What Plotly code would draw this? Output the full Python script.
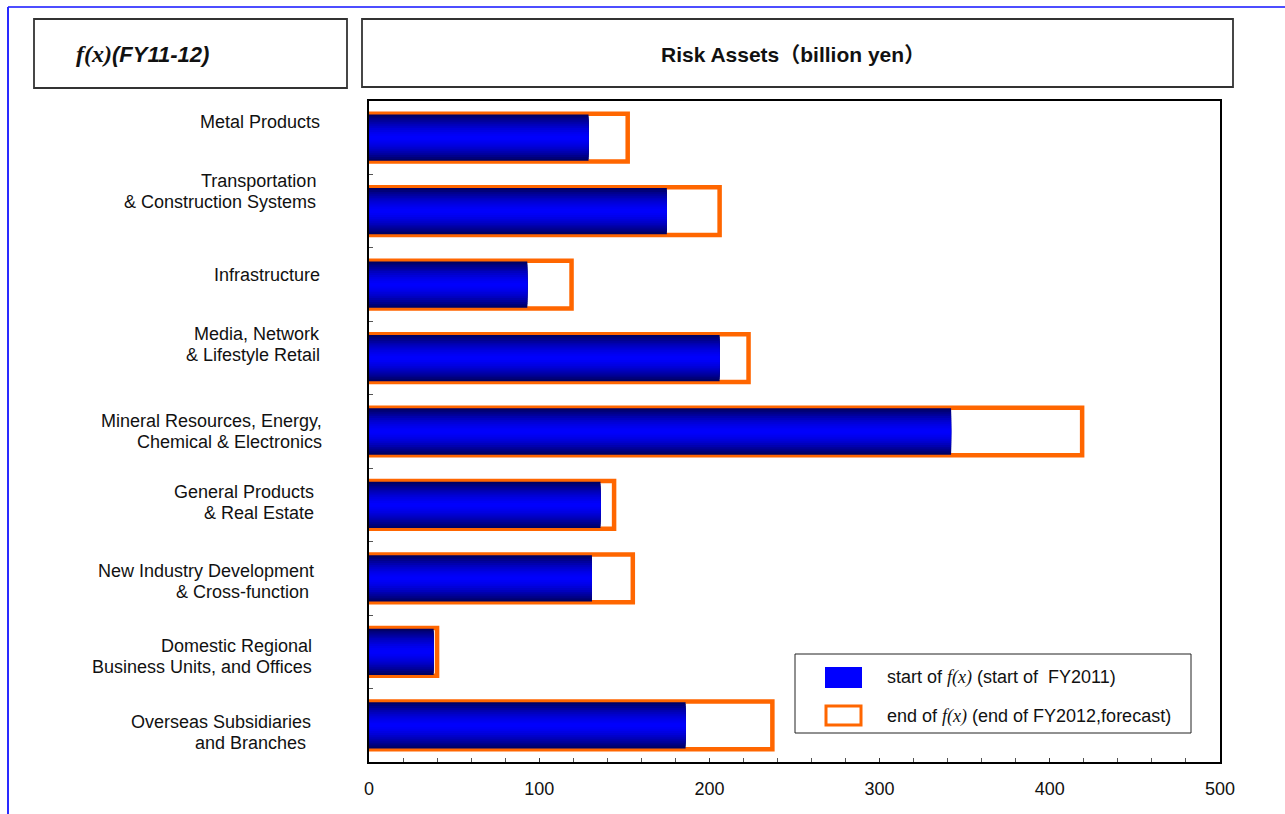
import plotly.graph_objects as go

categories = [
    ["Metal Products"],
    ["Transportation", "& Construction Systems"],
    ["Infrastructure"],
    ["Media, Network", "& Lifestyle Retail"],
    ["Mineral Resources, Energy,", "Chemical & Electronics"],
    ["General Products", "& Real Estate"],
    ["New Industry Development", "& Cross-function"],
    ["Domestic Regional", "Business Units, and Offices"],
    ["Overseas Subsidiaries", "and Branches"],
]
start_fy2011 = [129, 175, 93, 206, 342, 136, 131, 38, 186]
end_fy2012 = [152, 206, 119, 223, 419, 144, 155, 40, 237]
x_ticks = [0, 100, 200, 300, 400, 500]

# label layout (pixel offsets of category text relative to bar centre / right edges)
label_dy = [15.7, 19.6, 9.5, 14, 0.4, 2.8, -2.8, -4.4, -7]
label_right = [[322], [318, 318], [322], [322, 322], [324, 324], [316, 316],
               [316, 311], [314, 314], [313, 308]]

W, H = 1285, 814
L, R, T, B = 369, 1220, 101, 762


def px_x(p):
    return (p - L) / (R - L)


def px_y(p):
    return (B - p) / (B - T)


idx = list(range(len(categories)))
fig = go.Figure()

# end of f(x): orange outline bars
fig.add_trace(go.Bar(
    x=end_fy2012, y=idx, orientation="h", width=0.65,
    marker=dict(color="white", line=dict(color="#ff6600", width=4.5)),
    hoverinfo="x", showlegend=False,
))

# start of f(x): blue bars with vertical gradient, layered
N = 12
for k in range(N):
    f = 1 - k / N
    t = f ** 1.6
    b = int(round(255 - (255 - 100) * t))
    fig.add_trace(go.Bar(
        x=start_fy2011, y=idx, orientation="h", width=0.63 * f,
        marker=dict(color=f"rgb(0,0,{b})", line=dict(width=0)),
        hoverinfo="x", showlegend=False,
    ))

fig.update_layout(
    width=W, height=H,
    margin=dict(l=L, r=W - R, t=T, b=H - B, pad=0),
    barmode="overlay",
    plot_bgcolor="white", paper_bgcolor="white",
    font=dict(family="Liberation Sans, Arial, sans-serif", size=18, color="#111"),
    showlegend=False,
)
fig.update_xaxes(
    range=[0, 500], tickvals=x_ticks, ticktext=[str(v) for v in x_ticks],
    ticks="inside", ticklen=4, tickcolor="#333",
    minor=dict(dtick=20, ticks="inside", ticklen=4, tickcolor="#555"),
    showgrid=False, zeroline=False,
    showline=True, linecolor="black", linewidth=1.5, mirror=True,
    tickfont=dict(size=18, color="#111"), ticklabelstandoff=10,
)
fig.update_yaxes(
    range=[8.5, -0.5], tickvals=[i + 0.5 for i in idx[:-1]],
    ticktext=["" for _ in idx[:-1]],
    ticks="inside", ticklen=4, tickcolor="#555",
    showgrid=False, zeroline=False,
    showline=True, linecolor="black", linewidth=1.5, mirror=True,
)

# category labels (one annotation per line for tight line spacing)
LINE = 21
for i, lines in enumerate(categories):
    n = len(lines)
    for j, txt in enumerate(lines):
        off = ((n - 1) / 2 - j) * LINE
        fig.add_annotation(
            x=px_x(label_right[i][j]), xref="paper", y=i, yref="y",
            yshift=label_dy[i] + off,
            text=txt, showarrow=False, xanchor="right", yanchor="middle",
            font=dict(size=18, color="#111"),
        )

shapes = []
# outer blue frame
shapes.append(dict(type="line", xref="paper", yref="paper",
                   x0=px_x(8), x1=px_x(1285), y0=px_y(7), y1=px_y(7),
                   line=dict(color="#4d4dff", width=2)))
shapes.append(dict(type="line", xref="paper", yref="paper",
                   x0=px_x(8), x1=px_x(8), y0=px_y(7), y1=px_y(814),
                   line=dict(color="#2a2aff", width=2)))
# header boxes
for (x0, x1, y0, y1) in [(34, 347, 19, 88), (362, 1233, 19, 87)]:
    shapes.append(dict(type="rect", xref="paper", yref="paper",
                       x0=px_x(x0), x1=px_x(x1), y0=px_y(y1), y1=px_y(y0),
                       line=dict(color="#333", width=1.8), fillcolor="white"))
# legend box
shapes.append(dict(type="rect", xref="paper", yref="paper",
                   x0=px_x(795), x1=px_x(1191), y0=px_y(733), y1=px_y(654),
                   line=dict(color="#222", width=1), fillcolor="white"))
shapes.append(dict(type="rect", xref="paper", yref="paper",
                   x0=px_x(825), x1=px_x(862), y0=px_y(688), y1=px_y(667),
                   line=dict(width=0), fillcolor="#0000ff"))
shapes.append(dict(type="rect", xref="paper", yref="paper",
                   x0=px_x(826), x1=px_x(861), y0=px_y(725), y1=px_y(706),
                   line=dict(color="#ff6600", width=3), fillcolor="white"))
fig.update_layout(shapes=shapes)

fx = "<span style='font-family:Liberation Serif, Times New Roman, serif'><i>f(x)</i></span>"
fig.add_annotation(x=px_x(74), y=px_y(54), xref="paper", yref="paper",
                   text="<b><i><span style='font-family:Liberation Serif, serif;font-size:24px'>f(x)</span>(FY11-12)</i></b>",
                   showarrow=False, xanchor="left", yanchor="middle",
                   font=dict(size=22, color="#111"))
fig.add_annotation(x=px_x(793), y=px_y(55), xref="paper", yref="paper",
                   text="<b>Risk Assets（billion yen）</b>",
                   showarrow=False, xanchor="center", yanchor="middle",
                   font=dict(size=21, color="#111",
                             family="Liberation Sans, Noto Sans CJK JP, sans-serif"))
fig.add_annotation(x=px_x(885), y=px_y(677), xref="paper", yref="paper",
                   text=f"start of {fx} (start of  FY2011)",
                   showarrow=False, xanchor="left", yanchor="middle",
                   font=dict(size=18, color="#111"))
fig.add_annotation(x=px_x(885), y=px_y(716), xref="paper", yref="paper",
                   text=f"end of {fx} (end of FY2012,forecast)",
                   showarrow=False, xanchor="left", yanchor="middle",
                   font=dict(size=18, color="#111"))

fig.write_html("out.html")
